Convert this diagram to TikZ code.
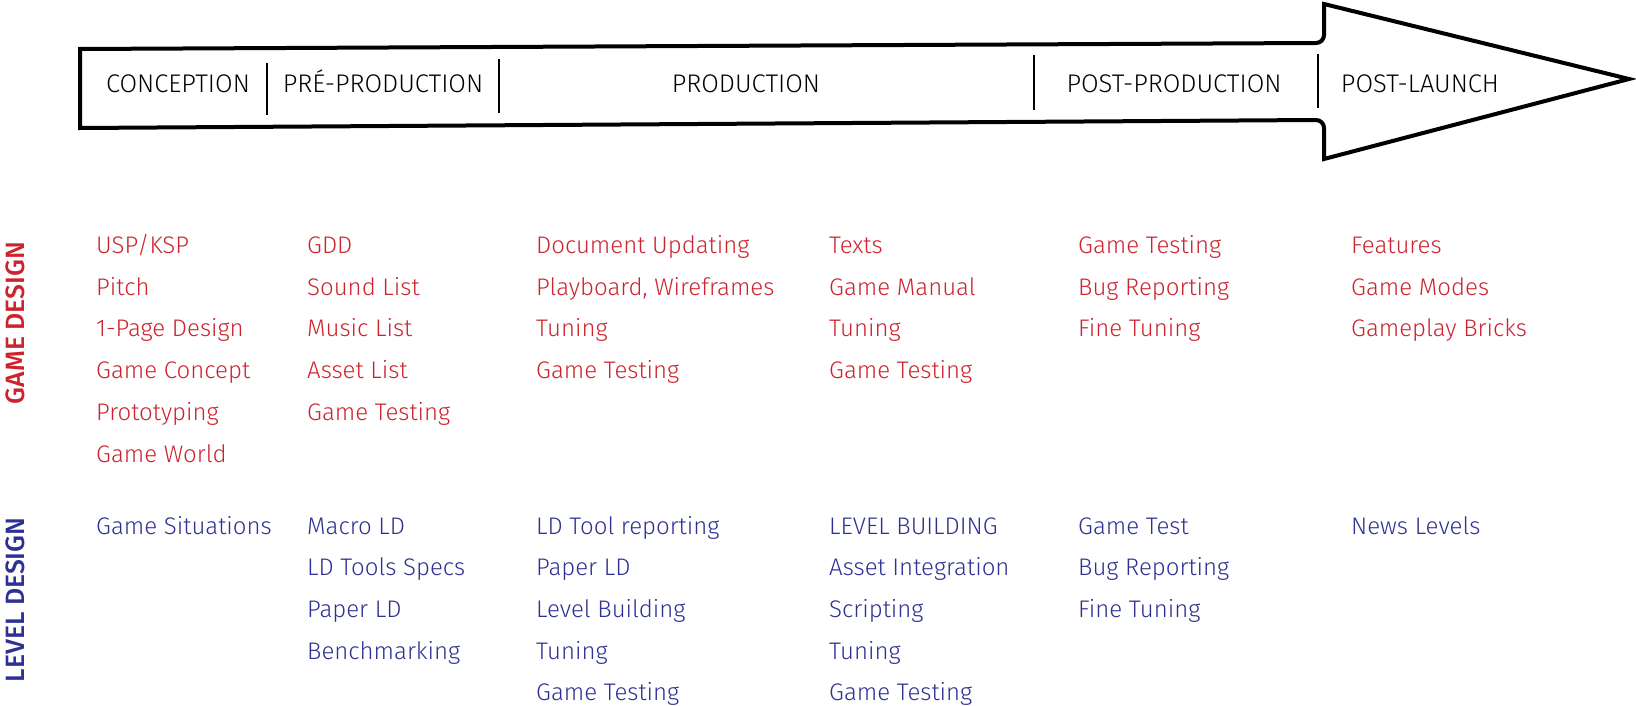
\documentclass[tikz,border=0pt]{standalone}
\usepackage{fontspec}
\setmainfont{Fira Sans}[UprightFont=* Light, BoldFont=* Medium]
\definecolor{gdred}{RGB}{204,36,46}
\definecolor{ldblue}{RGB}{46,49,146}
\begin{document}
\begin{tikzpicture}[x=1pt,y=-1pt,
  phase/.style={anchor=base, inner sep=0pt, font=\fontsize{25.5}{25.5}\selectfont},
  gditem/.style={anchor=base west, inner sep=0pt, text=gdred, font=\fontsize{24}{24}\selectfont},
  lditem/.style={anchor=base west, inner sep=0pt, text=ldblue, font=\fontsize{24}{24}\selectfont},
  side/.style={rotate=90, inner sep=0pt, font=\bfseries\fontsize{26.5}{26.5}\selectfont},
  divider/.style={line width=2pt},
  arrowline/.style={line width=4pt, line join=miter}]
\useasboundingbox (0,0) rectangle (1636,706);
% big arrow
\draw[arrowline] (80,49) -- (1316,43) to[out=0,in=-90] (1324,35) -- (1324,4) -- (1629,79) -- (1324,159) -- (1324,128) to[out=90,in=0] (1316,120) -- (80,128) -- cycle;
% dividers
\coordinate (d1a) at (267,63); \coordinate (d1b) at (267,115);
\coordinate (d2a) at (499,59); \coordinate (d2b) at (499,113);
\coordinate (d3a) at (1034,55); \coordinate (d3b) at (1034,110);
\coordinate (d4a) at (1318,54); \coordinate (d4b) at (1318,108);
\draw[divider] (d1a) -- (d1b);
\draw[divider] (d2a) -- (d2b);
\draw[divider] (d3a) -- (d3b);
\draw[divider] (d4a) -- (d4b);
% phase labels
\node[phase] (p1) at (178,93) {CONCEPTION};
\node[phase] (p2) at (383,93) {PRÉ-PRODUCTION};
\node[phase] (p3) at (746,93) {PRODUCTION};
\node[phase] (p4) at (1174,93) {POST-PRODUCTION};
\node[phase] (p5) at (1420,93) {POST-LAUNCH};
% side labels
\node[side, text=gdred] (gd) at (15,323) {GAME DESIGN};
\node[side, text=ldblue] (ld) at (15,600) {LEVEL DESIGN};
% game design items
\node[gditem] (g11) at (96,253.5) {USP/KSP};
\node[gditem] (g12) at (96,295.2) {Pitch};
\node[gditem] (g13) at (96,336.9) {1-Page Design};
\node[gditem] (g14) at (96,378.6) {Game Concept};
\node[gditem] (g15) at (96,420.3) {Prototyping};
\node[gditem] (g16) at (96,462) {Game World};
\node[gditem] (g21) at (307,253.5) {GDD};
\node[gditem] (g22) at (307,295.2) {Sound List};
\node[gditem] (g23) at (307,336.9) {Music List};
\node[gditem] (g24) at (307,378.6) {Asset List};
\node[gditem] (g25) at (307,420.3) {Game Testing};
\node[gditem] (g31) at (536,253.5) {Document Updating};
\node[gditem] (g32) at (536,295.2) {Playboard, Wireframes};
\node[gditem] (g33) at (536,336.9) {Tuning};
\node[gditem] (g34) at (536,378.6) {Game Testing};
\node[gditem] (g41) at (829,253.5) {Texts};
\node[gditem] (g42) at (829,295.2) {Game Manual};
\node[gditem] (g43) at (829,336.9) {Tuning};
\node[gditem] (g44) at (829,378.6) {Game Testing};
\node[gditem] (g51) at (1078,253.5) {Game Testing};
\node[gditem] (g52) at (1078,295.2) {Bug Reporting};
\node[gditem] (g53) at (1078,336.9) {Fine Tuning};
\node[gditem] (g61) at (1351,253.5) {Features};
\node[gditem] (g62) at (1351,295.2) {Game Modes};
\node[gditem] (g63) at (1351,336.9) {Gameplay Bricks};
% level design items
\node[lditem] (l11) at (96,534) {Game Situations};
\node[lditem] (l21) at (307,534) {Macro LD};
\node[lditem] (l22) at (307,575.7) {LD Tools Specs};
\node[lditem] (l23) at (307,617.4) {Paper LD};
\node[lditem] (l24) at (307,659.1) {Benchmarking};
\node[lditem] (l31) at (536,534) {LD Tool reporting};
\node[lditem] (l32) at (536,575.7) {Paper LD};
\node[lditem] (l33) at (536,617.4) {Level Building};
\node[lditem] (l34) at (536,659.1) {Tuning};
\node[lditem] (l35) at (536,700.8) {Game Testing};
\node[lditem] (l41) at (829,534) {LEVEL BUILDING};
\node[lditem] (l42) at (829,575.7) {Asset Integration};
\node[lditem] (l43) at (829,617.4) {Scripting};
\node[lditem] (l44) at (829,659.1) {Tuning};
\node[lditem] (l45) at (829,700.8) {Game Testing};
\node[lditem] (l51) at (1078,534) {Game Test};
\node[lditem] (l52) at (1078,575.7) {Bug Reporting};
\node[lditem] (l53) at (1078,617.4) {Fine Tuning};
\node[lditem] (l61) at (1351,534) {News Levels};
\end{tikzpicture}
\end{document}
